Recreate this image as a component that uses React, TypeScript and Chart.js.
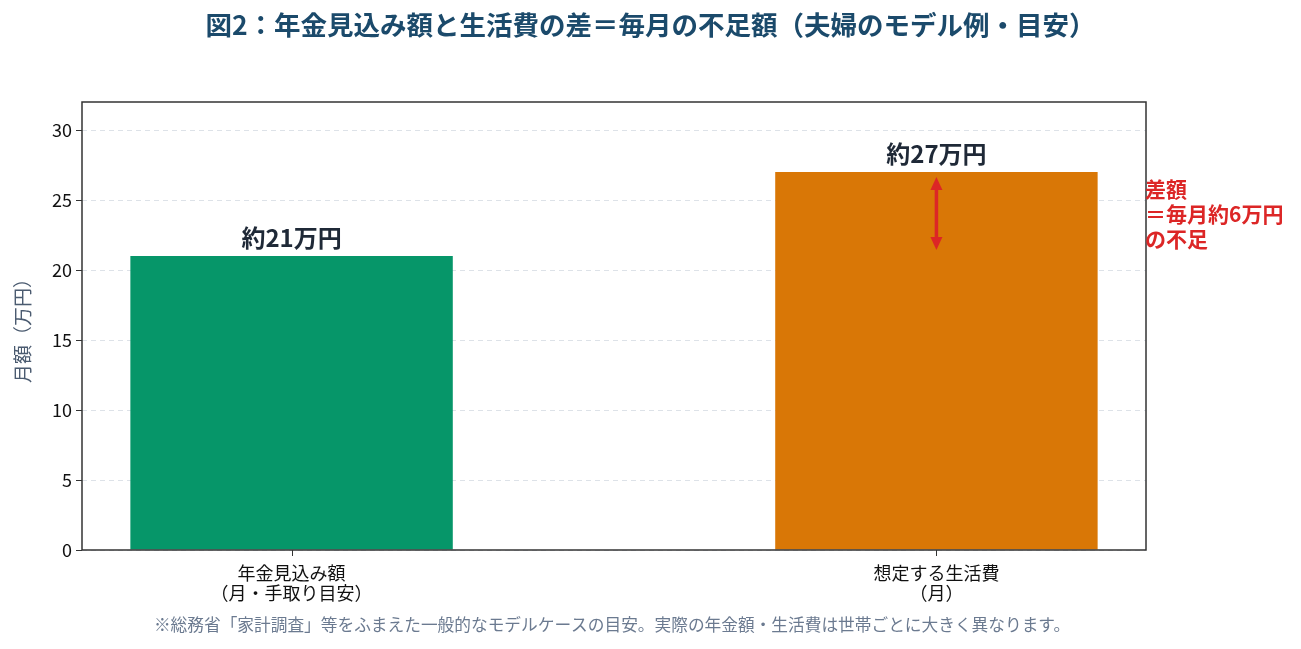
import React, { useEffect, useRef } from "react";
import { Chart, registerables } from "chart.js";

Chart.register(...registerables);

const categories: string[][] = [
  ["年金見込み額", "（月・手取り目安）"],
  ["想定する生活費", "（月）"],
];
const values: number[] = [21, 27];
const valueLabels: string[] = ["約21万円", "約27万円"];
const barColors: string[] = ["#069669", "#d97706"];
const yTicks: number[] = [0, 5, 10, 15, 20, 25, 30];
const titleText = "図2：年金見込み額と生活費の差＝毎月の不足額（夫婦のモデル例・目安）";
const yTitle = "月額（万円）";
const gapLines: string[] = ["差額", "＝毎月約6万円", "の不足"];
const footnote =
  "※総務省「家計調査」等をふまえた一般的なモデルケースの目安。実際の年金額・生活費は世帯ごとに大きく異なります。";

const FONT = "'Noto Sans CJK JP', 'Noto Sans', sans-serif";

const overlay = {
  id: "overlay",
  afterDraw(chart: any) {
    const { ctx, chartArea, scales } = chart;
    const xs = scales.x;
    const ys = scales.y;
    ctx.save();
    // frame
    ctx.strokeStyle = "#333333";
    ctx.lineWidth = 1.5;
    ctx.strokeRect(chartArea.left, chartArea.top, chartArea.right - chartArea.left, chartArea.bottom - chartArea.top);

    // x tick marks
    ctx.lineWidth = 1;
    categories.forEach((_, i) => {
      const x = Math.round(xs.getPixelForValue(i)) + 0.5;
      ctx.beginPath();
      ctx.moveTo(x, chartArea.bottom);
      ctx.lineTo(x, chartArea.bottom + 6);
      ctx.stroke();
    });

    // title
    ctx.fillStyle = "#1b4a6b";
    ctx.font = `bold 26.5px ${FONT}`;
    ctx.textAlign = "center";
    ctx.textBaseline = "middle";
    ctx.fillText(titleText, chart.width / 2, 17);

    // value labels
    ctx.fillStyle = "#1f2937";
    ctx.font = `bold 24px ${FONT}`;
    values.forEach((v, i) => {
      ctx.fillText(valueLabels[i], xs.getPixelForValue(i), ys.getPixelForValue(v) - 18);
    });

    // y title
    ctx.save();
    ctx.translate(15, (chartArea.top + chartArea.bottom) / 2);
    ctx.rotate(-Math.PI / 2);
    ctx.fillStyle = "#4b5b70";
    ctx.font = `19px ${FONT}`;
    ctx.fillText(yTitle, 0, 0);
    ctx.restore();

    // arrow
    const ax = xs.getPixelForValue(1);
    const yTop = ys.getPixelForValue(values[1]) + 5;
    const yBot = ys.getPixelForValue(values[0]) - 6;
    ctx.strokeStyle = "#dc2626";
    ctx.fillStyle = "#dc2626";
    ctx.lineWidth = 3.5;
    ctx.beginPath();
    ctx.moveTo(ax, yTop + 10);
    ctx.lineTo(ax, yBot - 10);
    ctx.stroke();
    ctx.beginPath();
    ctx.moveTo(ax, yTop);
    ctx.lineTo(ax - 6, yTop + 13);
    ctx.lineTo(ax + 6, yTop + 13);
    ctx.closePath();
    ctx.fill();
    ctx.beginPath();
    ctx.moveTo(ax, yBot);
    ctx.lineTo(ax - 6, yBot - 13);
    ctx.lineTo(ax + 6, yBot - 13);
    ctx.closePath();
    ctx.fill();

    // gap annotation
    ctx.font = `bold 21px ${FONT}`;
    ctx.textAlign = "left";
    const midY = ys.getPixelForValue((values[0] + values[1]) / 2);
    gapLines.forEach((t, i) => {
      ctx.fillText(t, chartArea.right - 1, midY + (i - 1) * 25);
    });

    // footnote
    ctx.fillStyle = "#6b7a90";
    ctx.font = `16.7px ${FONT}`;
    ctx.textAlign = "center";
    ctx.fillText(footnote, 604, 617);
    ctx.restore();
  },
};

export default function App() {
  const ref = useRef<HTMLCanvasElement | null>(null);
  useEffect(() => {
    if (!ref.current) return;
    const chart = new Chart(ref.current, {
      type: "bar",
      data: {
        datasets: [
          {
            data: values.map((v, i) => ({ x: i, y: v })),
            backgroundColor: barColors,
            borderWidth: 0,
            barPercentage: 0.5,
            categoryPercentage: 1,
          },
        ],
      },
      options: {
        animation: false,
        responsive: true,
        maintainAspectRatio: false,
        layout: { padding: { top: 94, right: 147, left: 0, bottom: 0 } },
        plugins: { legend: { display: false }, tooltip: { enabled: false }, title: { display: false } },
        scales: {
          x: {
            type: "linear",
            min: -0.325,
            max: 1.325,
            offset: false,
            afterBuildTicks: (s: any) => {
              s.ticks = categories.map((_, i) => ({ value: i }));
            },
            afterFit: (s: any) => {
              s.height = 91;
            },
            grid: { display: false, offset: false, drawOnChartArea: false, drawTicks: false },
            border: { display: false },
            ticks: {
              autoSkip: false,
              maxRotation: 0,
              padding: 13,
              color: "#111111",
              font: { family: FONT, size: 18, lineHeight: 1.1 },
              callback: (v: any) => categories[Math.round(Number(v))] ?? "",
            },
          },
          y: {
            min: 0,
            max: 32,
            afterBuildTicks: (s: any) => {
              s.ticks = yTicks.map((v) => ({ value: v }));
            },
            afterFit: (s: any) => {
              s.width = 74;
            },
            grid: {
              display: true,
              drawOnChartArea: true,
              drawTicks: false,
              color: "#dde2e8",
            },
            border: { display: false, dash: [5, 4] },
            ticks: {
              padding: 10,
              color: "#111111",
              font: { family: FONT, size: 18 },
            },
          },
        },
      },
      plugins: [
        {
          id: "ytickmarks",
          afterDraw(chart: any) {
            const { ctx, chartArea, scales } = chart;
            ctx.save();
            ctx.strokeStyle = "#333333";
            ctx.lineWidth = 1;
            yTicks.forEach((v) => {
              const y = Math.round(scales.y.getPixelForValue(v)) + 0.5;
              ctx.beginPath();
              ctx.moveTo(chartArea.left - 6, y);
              ctx.lineTo(chartArea.left, y);
              ctx.stroke();
            });
            ctx.restore();
          },
        },
        overlay,
      ],
    });
    return () => chart.destroy();
  }, []);
  return (
    <div style={{ width: 1285, height: 633, position: "relative" }}>
      <canvas ref={ref} />
    </div>
  );
}
